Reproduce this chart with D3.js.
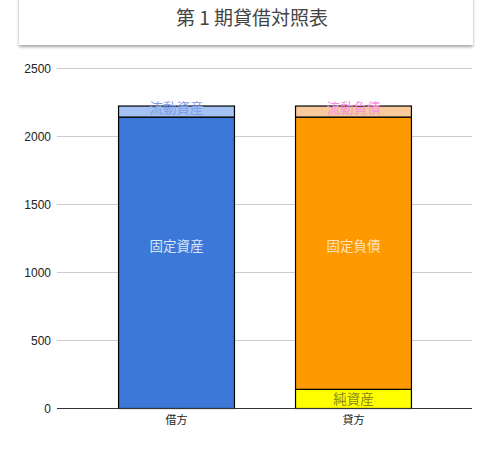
<!DOCTYPE html>
<html><head><meta charset="utf-8">
<script src="https://cdn.jsdelivr.net/npm/d3@7"></script>
<style>body{margin:0;background:#fff;}svg{display:block;}</style>
</head><body>
<svg id="c" width="495" height="451"></svg>
<script>
const title = "第 1 期貸借対照表";
const categories = ["借方", "貸方"];
const seriesNames = ["固定資産", "流動資産", "純資産", "固定負債", "流動負債"];
const fixedAssets = [2143, 0];
const currentAssets = [81, 0];
const netAssets = [0, 141];
const fixedLiabilities = [0, 2002];
const currentLiabilities = [0, 81];
const yTicks = [0, 500, 1000, 1500, 2000, 2500];

const fills = {"固定資産":"#3c78d8","流動資産":"#a4c2f4","純資産":"#ffff00","固定負債":"#ff9900","流動負債":"#f9cb9c"};
const labelColors = {"固定資産":"#dce5f6","流動資産":"#7f9de6","純資産":"#8d8a1a","固定負債":"#ffe2bd","流動負債":"#f490e4"};

const seriesValues = [fixedAssets, currentAssets, netAssets, fixedLiabilities, currentLiabilities];
const table = categories.map((c, i) => {
  const row = {cat: c};
  seriesNames.forEach((s, k) => row[s] = seriesValues[k][i]);
  return row;
});

const svg = d3.select("#c");
const defs = svg.append("defs");
const f = defs.append("filter").attr("id","sh").attr("x","-10%").attr("y","-50%").attr("width","120%").attr("height","200%");
f.append("feDropShadow").attr("dx",0).attr("dy",2).attr("stdDeviation",1.8).attr("flood-color","#000").attr("flood-opacity",0.35);

svg.append("rect").attr("x",19).attr("y",-6).attr("width",454).attr("height",51)
  .attr("fill","#fff").attr("filter","url(#sh)");
const tt = svg.append("text").attr("x",252).attr("y",25).attr("text-anchor","middle")
  .attr("font-family","'Noto Sans CJK JP',sans-serif").attr("font-size",19)
  .attr("fill","#444");
tt.text(title);

const x = d3.scaleBand().domain(categories).range([57, 472]).padding(0.345);
const y = d3.scaleLinear().domain([0, 2500]).range([408.5, 68.5]);

// grid
svg.append("g").selectAll("line").data(yTicks.filter(t => t > 0)).join("line")
  .attr("x1",57).attr("x2",472).attr("y1",d=>y(d)).attr("y2",d=>y(d))
  .attr("stroke","#cccccc").attr("stroke-width",1);

// y axis labels
const ya = svg.append("g").attr("transform","translate(51,0)")
  .call(d3.axisLeft(y).tickValues(yTicks).tickFormat(d3.format("d")).tickSize(0).tickPadding(0));
ya.select(".domain").remove();
ya.selectAll("text").attr("font-family","'Liberation Sans',Arial,sans-serif")
  .attr("font-size",12).attr("fill","#222").attr("dy","0.35em");

const stack = d3.stack().keys(seriesNames)(table);

const g = svg.append("g");
stack.forEach(layer => {
  layer.forEach((d, i) => {
    if (d[1] - d[0] <= 0) return;
    g.append("rect")
      .attr("x", x(categories[i]) + 0.5)
      .attr("y", y(d[1]))
      .attr("width", x.bandwidth())
      .attr("height", y(d[0]) - y(d[1]))
      .attr("fill", fills[layer.key])
      .attr("stroke", "#000").attr("stroke-width", 1.2);
  });
});

// labels
stack.forEach(layer => {
  layer.forEach((d, i) => {
    if (d[1] - d[0] <= 0) return;
    const big = (d[1] - d[0]) > 1000;
    const cy = big ? y(1195) : y((d[0] + d[1]) / 2) - (layer.key.startsWith("流動") ? 3 : 0);
    g.append("text")
      .attr("x", x(categories[i]) + x.bandwidth() / 2 + 0.5)
      .attr("y", cy).attr("dy","0.36em")
      .attr("text-anchor","middle")
      .attr("font-family","'Noto Sans CJK JP',sans-serif").attr("font-size",13.5)
      .attr("fill", labelColors[layer.key]).text(layer.key);
  });
});

// baseline
svg.append("line").attr("x1",57).attr("x2",472).attr("y1",y(0)).attr("y2",y(0))
  .attr("stroke","#333").attr("stroke-width",1.2);

// x axis labels
const xa = svg.append("g").attr("transform",`translate(0.5,${y(0)})`)
  .call(d3.axisBottom(x).tickSize(0).tickPadding(6));
xa.select(".domain").remove();
xa.selectAll("text").attr("font-family","'Noto Sans CJK JP',sans-serif")
  .attr("font-size",11).attr("fill","#222").attr("dy","0.9em");
</script>
</body></html>
